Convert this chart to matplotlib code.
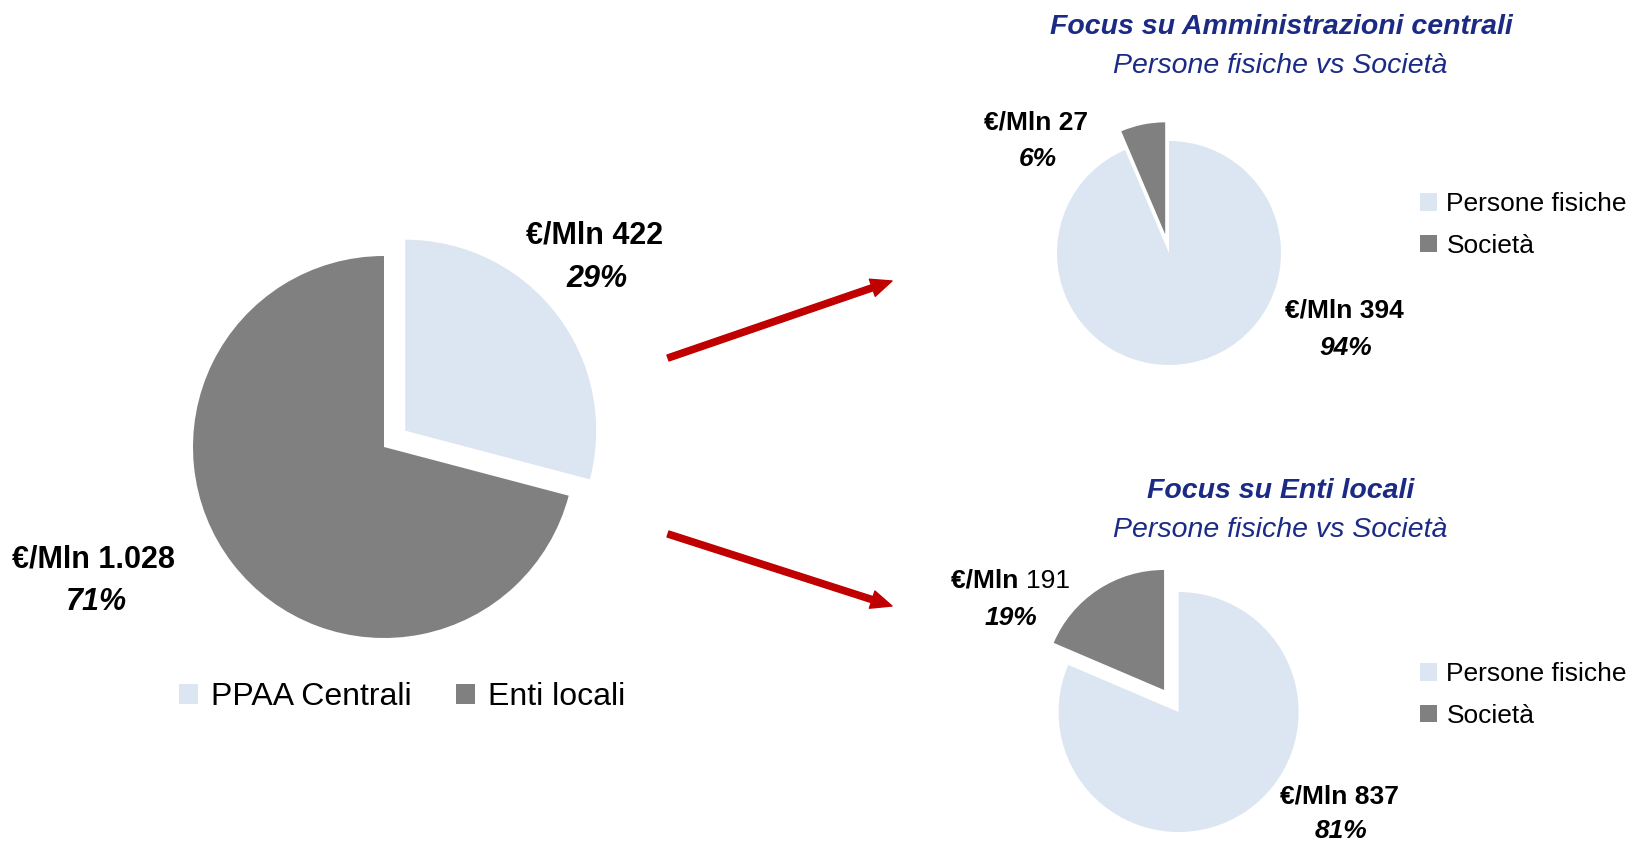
import matplotlib
matplotlib.use("Agg")
import matplotlib.pyplot as plt
from matplotlib.patches import Patch

plt.rcParams['font.family'] = ['Liberation Sans', 'DejaVu Sans']

# data
main_labels = ['PPAA Centrali', 'Enti locali']
main_values = [422, 1028]
main_text = ['€/Mln 422', '€/Mln 1.028']
main_pct = ['29%', '71%']

sub_labels = ['Persone fisiche', 'Società']
central_values = [394, 27]
central_text = ['€/Mln 394', '€/Mln 27']
central_pct = ['94%', '6%']
local_values = [837, 191]
local_text = ['€/Mln 837', '€/Mln 191']
local_pct = ['81%', '19%']

LIGHT = '#DCE6F2'
DARK = '#808080'
NAVY = '#1B2A84'
RED = '#C00000'
W, H = 1636, 843

fig = plt.figure(figsize=(W / 100, H / 100), dpi=100)
ax = fig.add_axes([0, 0, 1, 1])

def Y(y):
    # pixel row (top origin) -> data y
    return H - y

# explode in pie() is in data units, so scale by radius
def draw_pie(values, cx, cy, r, expl):
    ax.pie(values, colors=[LIGHT, DARK], startangle=90, counterclock=False,
           explode=[e * r for e in expl], center=(cx, Y(cy)), radius=r,
           wedgeprops=dict(linewidth=0))

draw_pie(main_values, 384, 447, 191, [0.14, 0])
draw_pie(central_values, 1169, 253, 112, [0, 0.17])
draw_pie(local_values, 1172, 702, 120, [0.1, 0.12])

ax.set_xlim(0, W)
ax.set_ylim(0, H)
ax.set_aspect('equal')
ax.axis('off')

def label(x, y, amount, pct, size, gap=1.95):
    ax.text(x, Y(y), amount, ha='center', va='center', fontsize=size,
            fontweight='bold')
    ax.text(x + 2, Y(y) - size * gap, pct, ha='center', va='center',
            fontsize=size, fontweight='bold', fontstyle='italic')

label(595, 236, main_text[0], main_pct[0], 22)
label(94, 559, main_text[1], main_pct[1], 22)
label(1344, 311, central_text[0], central_pct[0], 19)
label(1036, 122, central_text[1], central_pct[1], 19)
label(1339, 797, local_text[0], local_pct[0], 19, gap=1.8)

# "€/Mln" bold, figure regular
amt, num = local_text[1].split(' ')
ax.text(1026, Y(581), amt + ' ', ha='right', va='center', fontsize=19,
        fontweight='bold')
ax.text(1026, Y(581), num, ha='left', va='center', fontsize=19)
ax.text(1011, Y(581) - 19 * 1.95, local_pct[1], ha='center', va='center',
        fontsize=19, fontweight='bold', fontstyle='italic')

# titles
for ty, title in [(27, 'Focus su Amministrazioni centrali'), (491, 'Focus su Enti locali')]:
    ax.text(1281, Y(ty), title, ha='center', va='center', fontsize=20.5,
            fontweight='bold', fontstyle='italic', color=NAVY)
    ax.text(1280, Y(ty + 39), 'Persone fisiche vs Società', ha='center',
            va='center', fontsize=20.5, fontstyle='italic', color=NAVY)

# arrows
for start, end in [((668, 358), (892, 281)), ((668, 534), (892, 606))]:
    ax.annotate('', xy=(end[0], Y(end[1])), xytext=(start[0], Y(start[1])),
                arrowprops=dict(facecolor=RED, edgecolor=RED, width=4.5,
                                headwidth=13, headlength=15))

# legends
main_handles = [Patch(facecolor=c, edgecolor='none') for c in [LIGHT, DARK]]
fig.legend(main_handles, main_labels, loc='center',
           bbox_to_anchor=(402 / W, 1 - 697 / H), ncol=2, frameon=False,
           fontsize=23, handlelength=0.6, handleheight=0.6,
           handletextpad=0.4, columnspacing=1.4, borderpad=0)

sub_handles = [Patch(facecolor=c, edgecolor='none') for c in [LIGHT, DARK]]
for cy in [225, 695]:
    fig.legend(sub_handles, sub_labels, loc='center left',
               bbox_to_anchor=(1420 / W, 1 - cy / H), frameon=False,
               fontsize=19, handlelength=0.65, handleheight=0.65,
               handletextpad=0.35, labelspacing=0.65, borderpad=0,
               borderaxespad=0)

fig.savefig('out.png', dpi=100)
